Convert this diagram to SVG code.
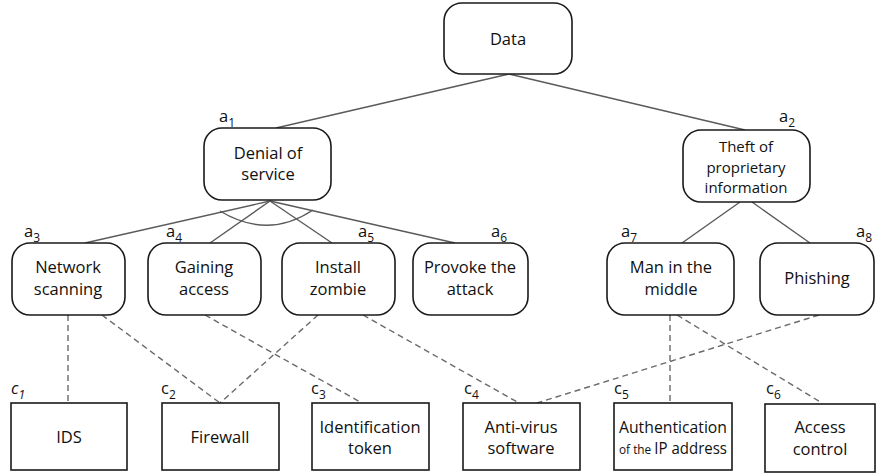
<svg xmlns="http://www.w3.org/2000/svg" width="877" height="476" viewBox="0 0 877 476">
<style>
.n{fill:#fff;stroke:#1a1a1a;stroke-width:1.6}
.t{font-family:"Open Sans","Liberation Sans",sans-serif;font-size:16.5px;fill:#111;text-anchor:middle}
.t3{font-size:15px}
.l{font-family:"Open Sans","Liberation Sans",sans-serif;font-size:16.5px;fill:#111}
.s{font-size:12px}
.e{fill:none;stroke:#5a5a5a;stroke-width:1.4}
.d{fill:none;stroke:#6a6a6a;stroke-width:1.4;stroke-dasharray:6 4}
</style>
<rect width="877" height="476" fill="#fff"/>
<g id="connectors">
<line class="e" x1="509" y1="74" x2="276" y2="128"/>
<line class="e" x1="509" y1="74" x2="745" y2="130"/>
<line class="e" x1="270" y1="201" x2="85" y2="243"/>
<line class="e" x1="270" y1="201" x2="210" y2="243"/>
<line class="e" x1="270" y1="201" x2="332" y2="243"/>
<line class="e" x1="270" y1="201" x2="455" y2="243"/>
<path class="e" d="M220,211 Q268,240 313,210"/>
<line class="e" x1="740" y1="202" x2="682" y2="243"/>
<line class="e" x1="752" y1="202" x2="810" y2="243"/>
<line class="d" x1="68" y1="315" x2="68" y2="403"/>
<line class="d" x1="102" y1="315" x2="220" y2="403"/>
<line class="d" x1="205" y1="315" x2="362" y2="403"/>
<line class="d" x1="318" y1="315" x2="220" y2="403"/>
<line class="d" x1="363" y1="315" x2="519" y2="403"/>
<line class="d" x1="670" y1="315" x2="670" y2="403"/>
<line class="d" x1="677" y1="315" x2="822" y2="403"/>
<line class="d" x1="819" y1="315" x2="537" y2="403"/>
</g>
<g id="data"><rect class="n" x="444" y="3" width="128" height="71" rx="18"/><text class="t" x="508" y="45">Data</text></g>
<g id="a1"><rect class="n" x="204" y="128" width="127" height="72" rx="18"/><text class="t" x="268" y="159">Denial of</text><text class="t" x="268" y="180">service</text><text class="l" x="219" y="122">a<tspan class="s" dy="5">1</tspan></text></g>
<g id="a2"><rect class="n" x="683" y="130" width="127" height="72" rx="18"/><text class="t t3" x="746" y="152">Theft of</text><text class="t t3" x="746" y="172.5">proprietary</text><text class="t t3" x="746" y="193">information</text><text class="l" x="779" y="122">a<tspan class="s" dy="5">2</tspan></text></g>
<g id="a3"><rect class="n" x="12" y="243" width="113" height="72" rx="18"/><text class="t" x="68" y="273">Network</text><text class="t" x="68" y="295">scanning</text><text class="l" x="24" y="237">a<tspan class="s" dy="5">3</tspan></text></g>
<g id="a4"><rect class="n" x="148" y="243" width="113" height="72" rx="18"/><text class="t" x="204" y="273">Gaining</text><text class="t" x="204" y="295">access</text><text class="l" x="166" y="237">a<tspan class="s" dy="5">4</tspan></text></g>
<g id="a5"><rect class="n" x="282" y="243" width="113" height="72" rx="18"/><text class="t" x="338" y="273">Install</text><text class="t" x="338" y="295">zombie</text><text class="l" x="358" y="237">a<tspan class="s" dy="5">5</tspan></text></g>
<g id="a6"><rect class="n" x="413" y="243" width="115" height="72" rx="18"/><text class="t" x="470" y="273">Provoke the</text><text class="t" x="470" y="295">attack</text><text class="l" x="491" y="237">a<tspan class="s" dy="5">6</tspan></text></g>
<g id="a7"><rect class="n" x="607" y="243" width="127" height="72" rx="18"/><text class="t" x="671" y="273">Man in the</text><text class="t" x="671" y="295">middle</text><text class="l" x="621" y="237">a<tspan class="s" dy="5">7</tspan></text></g>
<g id="a8"><rect class="n" x="760" y="243" width="114" height="72" rx="18"/><text class="t" x="817" y="284">Phishing</text><text class="l" x="856" y="237">a<tspan class="s" dy="5">8</tspan></text></g>
<g id="c1"><rect class="n" x="11" y="403" width="116" height="67"/><text class="t" x="69" y="443">IDS</text><text class="l" x="11" y="394" font-style="italic">c<tspan class="s" dy="5">1</tspan></text></g>
<g id="c2"><rect class="n" x="162" y="403" width="117" height="67"/><text class="t" x="220" y="443">Firewall</text><text class="l" x="161" y="394">c<tspan class="s" dy="5">2</tspan></text></g>
<g id="c3"><rect class="n" x="312" y="403" width="117" height="67"/><text class="t" x="370" y="433">Identification</text><text class="t" x="370" y="454">token</text><text class="l" x="311" y="394">c<tspan class="s" dy="5">3</tspan></text></g>
<g id="c4"><rect class="n" x="463" y="403" width="117" height="67"/><text class="t" x="521" y="433">Anti-virus</text><text class="t" x="521" y="454">software</text><text class="l" x="464" y="394">c<tspan class="s" dy="5">4</tspan></text></g>
<g id="c5"><rect class="n" x="614" y="403" width="118" height="67"/><text class="t" x="673" y="433" textLength="108" lengthAdjust="spacingAndGlyphs">Authentication</text><text class="t" x="673" y="454" textLength="108" lengthAdjust="spacingAndGlyphs"><tspan font-size="13px">of the </tspan>IP address</text><text class="l" x="614" y="394">c<tspan class="s" dy="5">5</tspan></text></g>
<g id="c6"><rect class="n" x="765" y="404" width="110" height="68"/><text class="t" x="820" y="433">Access</text><text class="t" x="820" y="455">control</text><text class="l" x="766" y="394">c<tspan class="s" dy="5">6</tspan></text></g>
</svg>
